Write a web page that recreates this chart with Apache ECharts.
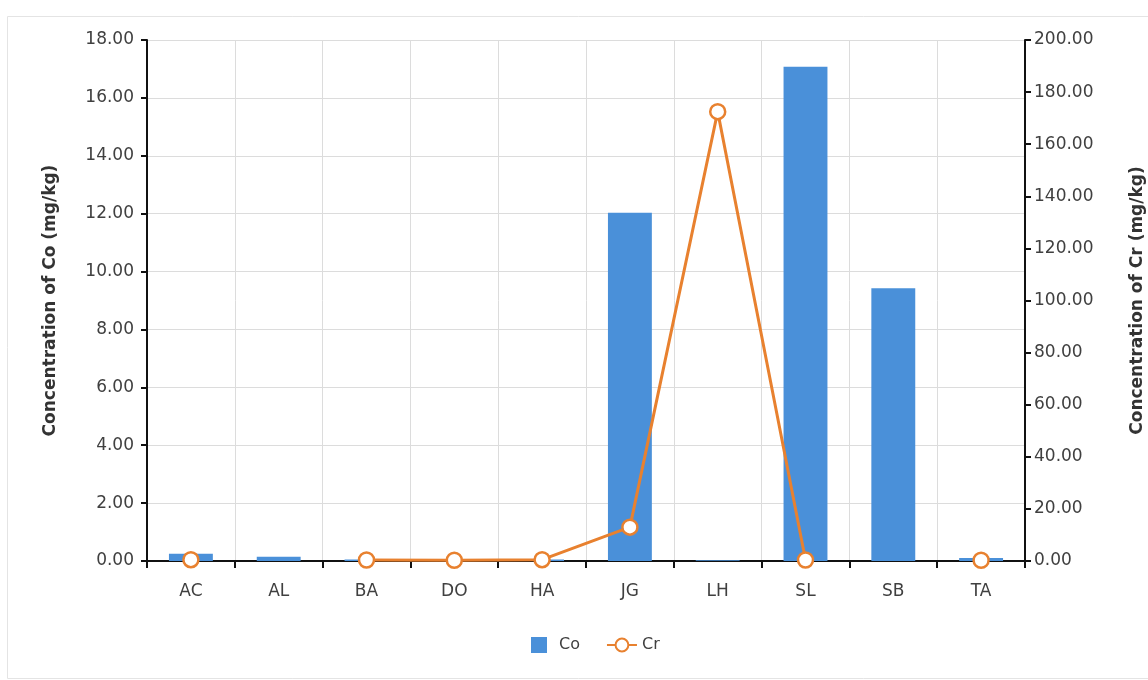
<!DOCTYPE html>
<html>
<head>
<meta charset="utf-8">
<script src="https://cdn.jsdelivr.net/npm/echarts@6/dist/echarts.min.js"></script>
<style>
html,body{margin:0;padding:0;background:#fff;}
#chart{width:1148px;height:680px;}
</style>
</head>
<body>
<div id="chart"></div>
<script>
const categories = ['AC','AL','BA','DO','HA','JG','LH','SL','SB','TA'];
const coValues = [0.25, 0.15, 0.05, 0.0, 0.05, 12.03, 0.03, 17.08, 9.42, 0.1];
const crValues = [0.5, null, 0.4, 0.3, 0.5, 13.0, 172.5, 0.4, null, 0.3];
const leftAxisName = 'Concentration of Co (mg/kg)';
const rightAxisName = 'Concentration of Cr (mg/kg)';

const font = 'DejaVu Sans, sans-serif';
const chart = echarts.init(document.getElementById('chart'));
chart.setOption({
  animation: false,
  backgroundColor: '#fff',
  graphic: [{
    type: 'rect', left: 5, top: 14, silent: true,
    shape: {width: 1160, height: 662},
    style: {fill: 'none', stroke: '#e4e4e4', lineWidth: 1}
  }],
  grid: {left: 147, right: 123, top: 40, bottom: 119, containLabel: false, outerBoundsMode: 'none'},
  legend: {
    bottom: 22, left: 526, itemGap: 26, itemWidth: 30, itemHeight: 16,
    textStyle: {fontFamily: font, fontSize: 16, color: '#404040'},
    data: [
      {name: 'Co', icon: 'path://M0,0H10V10H0Z'},
      {name: 'Cr'}
    ]
  },
  xAxis: {
    type: 'category', data: categories, boundaryGap: true,
    axisLine: {lineStyle: {color: '#111', width: 2}},
    axisTick: {show: true, length: 7, lineStyle: {color: '#111', width: 2}},
    axisLabel: {fontFamily: font, fontSize: 17, color: '#404040', margin: 22},
    splitLine: {show: true, lineStyle: {color: '#dcdcdc', width: 1}}
  },
  yAxis: [{
    type: 'value', min: 0, max: 18, interval: 2,
    name: leftAxisName, nameLocation: 'middle', nameRotate: 90, nameGap: 88,
    nameTextStyle: {fontFamily: font, fontSize: 17, color: '#333', fontWeight: 'bold'},
    axisLine: {show: true, lineStyle: {color: '#111', width: 2}},
    axisTick: {show: true, length: 6, lineStyle: {color: '#111', width: 2}},
    axisLabel: {fontFamily: font, fontSize: 17, color: '#404040', margin: 13,
      formatter: v => v.toFixed(2)},
    splitLine: {show: true, lineStyle: {color: '#dcdcdc', width: 1}}
  }, {
    type: 'value', min: 0, max: 200, interval: 20, position: 'right',
    name: rightAxisName, nameLocation: 'middle', nameRotate: 90, nameGap: 104,
    nameTextStyle: {fontFamily: font, fontSize: 17, color: '#333', fontWeight: 'bold'},
    axisLine: {show: true, lineStyle: {color: '#111', width: 2}},
    axisTick: {show: true, length: 6, lineStyle: {color: '#111', width: 2}},
    axisLabel: {fontFamily: font, fontSize: 17, color: '#404040', margin: 9,
      formatter: v => v.toFixed(2)},
    splitLine: {show: false}
  }],
  series: [{
    name: 'Co', type: 'bar', yAxisIndex: 0, data: coValues,
    barWidth: '50%',
    itemStyle: {color: '#4a90d9'}
  }, {
    name: 'Cr', type: 'line', yAxisIndex: 1, data: crValues,
    connectNulls: false,
    symbol: 'circle', symbolSize: 15, showAllSymbol: true,
    lineStyle: {color: '#e8812f', width: 3},
    itemStyle: {color: '#fff', borderColor: '#e8812f', borderWidth: 2.5}
  }]
});
</script>
</body>
</html>
